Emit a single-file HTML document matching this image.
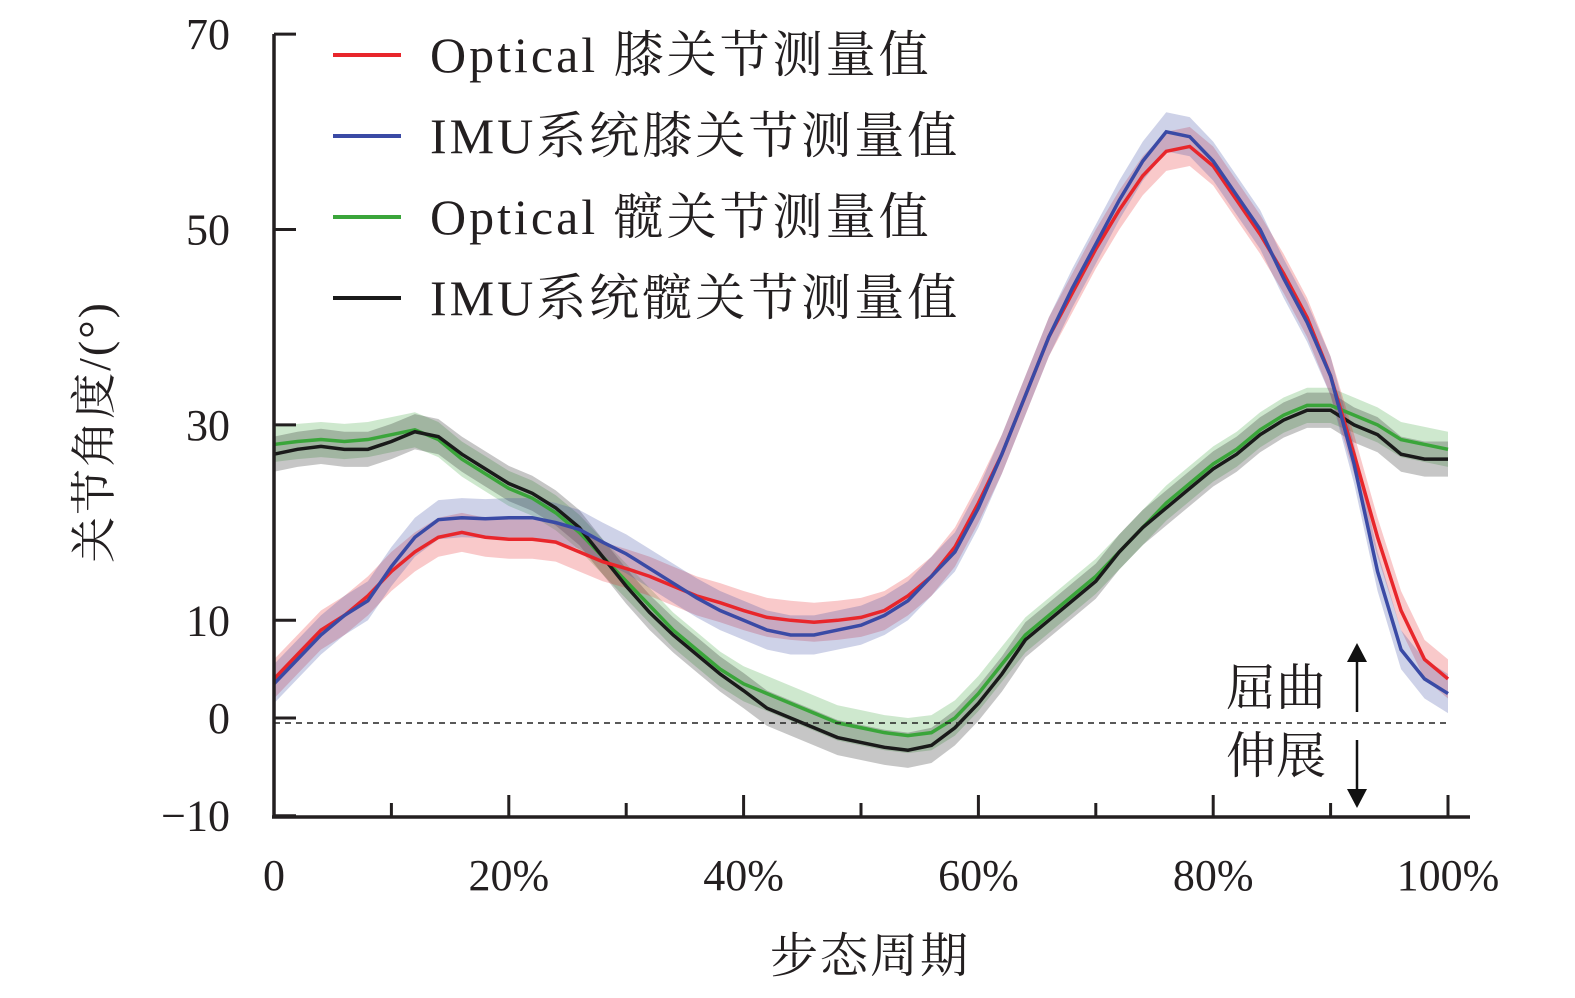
<!DOCTYPE html>
<html><head><meta charset="utf-8"><style>
html,body{margin:0;padding:0;background:#fff;overflow:hidden;width:1575px;height:998px}
svg{display:block}
svg text{font-family:"Liberation Serif","Noto Serif CJK SC",serif;fill:#231f20}
</style></head><body>
<svg id="chart" width="1575" height="998" viewBox="0 0 1575 998" xmlns="http://www.w3.org/2000/svg">
<g id="bands"></g><g id="lines"></g><g id="axes"></g>
<text transform="translate(110,432) rotate(-90)" font-size="46" text-anchor="middle" letter-spacing="2">关节角度/(°)</text>
<text x="870" y="972" font-size="48" text-anchor="middle" letter-spacing="2">步态周期</text>
<text x="1226" y="705" font-size="50">屈曲</text>
<text x="1226" y="773" font-size="50">伸展</text>
<line x1="1357" y1="712" x2="1357" y2="655" stroke="#111" stroke-width="2.5"/>
<polygon points="1347,662 1357,643 1367,662" fill="#111"/>
<line x1="1357" y1="740" x2="1357" y2="796" stroke="#111" stroke-width="2.5"/>
<polygon points="1347,789 1357,808 1367,789" fill="#111"/>
</svg>
<script>
const xPct=[];for(let i=0;i<=50;i++)xPct.push(i*2);
const kneeOptical=[4,6.5,9,10.5,12.5,15,17,18.5,19,18.5,18.3,18.3,18,17,16,15.3,14.5,13.5,12.5,11.8,11,10.3,10,9.8,10,10.3,11,12.5,14.5,17.5,22,27,33,39,43.5,48,52,55.5,58,58.5,56.5,53,49.5,45.5,41,35,27,18.5,11,6,4];
const kneeIMU=[3.5,6,8.5,10.5,12,15.5,18.5,20.3,20.5,20.4,20.5,20.5,20,19.3,18,16.8,15.3,13.8,12.3,11,10,9,8.5,8.5,9,9.5,10.5,12,14.5,17,21.5,27,33,39,44,48.5,53,57,60,59.5,57,53.5,50,45,40.5,35,26,15,7,4,2.5];
const hipOptical=[28,28.3,28.5,28.3,28.5,29,29.5,28.5,26.5,25,23.5,22.5,21,19,16.5,14,11.5,9,7,5,3.5,2.5,1.5,0.5,-0.5,-1,-1.5,-1.8,-1.5,0,2.5,5.5,8.5,10.5,12.5,14.5,17,19.5,22,24,26,27.5,29.5,31,32,32,31,30,28.5,28,27.5];
const hipIMU=[27,27.5,27.8,27.5,27.5,28.3,29.3,28.8,27,25.5,24,23,21.5,19.5,16.5,13.5,10.8,8.5,6.5,4.5,2.8,1,0,-1,-2,-2.5,-3,-3.3,-2.8,-1,1.5,4.5,8,10,12,14,17,19.5,21.5,23.5,25.5,27,29,30.5,31.5,31.5,30,29,27,26.5,26.5];
const bandSD=[2,2,1.8,1.8];
const yTicks=[70,50,30,10,0,-10];
const xTicks=[0,20,40,60,80,100];
const names=["Optical 膝关节测量值","IMU系统膝关节测量值","Optical 髋关节测量值","IMU系统髋关节测量值"];
const colors=["#e8262b","#3a4aa5","#3aa53a","#1a1a1a"];
const series=[kneeOptical,kneeIMU,hipOptical,hipIMU];
const X=p=>274+p*11.74, Y=v=>718-v*9.77;
const NS="http://www.w3.org/2000/svg";
function mk(t,a,parent){const e=document.createElementNS(NS,t);for(const k in a)e.setAttribute(k,a[k]);parent.appendChild(e);return e;}
const bands=document.getElementById('bands'),lines=document.getElementById('lines'),axes=document.getElementById('axes');
const order=[2,3,0,1];
order.forEach(s=>{const d=series[s],sd=bandSD[s];
 let up=xPct.map((p,i)=>X(p)+','+Y(d[i]+sd)).join(' ');
 let dn=xPct.map((p,i)=>X(p)+','+Y(d[i]-sd)).reverse().join(' ');
 const b=mk('polygon',{points:up+' '+dn,fill:colors[s],'fill-opacity':0.25},bands);
 
 
 const l=mk('polyline',{points:xPct.map((p,i)=>X(p)+','+Y(d[i])).join(' '),fill:'none',stroke:colors[s],'stroke-width':3.5},lines);
 
 
});
const z=mk('line',{x1:274,x2:1450,y1:Y(0)+5,y2:Y(0)+5,stroke:'#222','stroke-width':1.5,'stroke-dasharray':'6,5'},axes);


mk('line',{x1:274,x2:274,y1:34,y2:818,stroke:'#231f20','stroke-width':3.5},axes);
mk('line',{x1:272,x2:1470,y1:817,y2:817,stroke:'#231f20','stroke-width':3.5},axes);
yTicks.forEach(v=>{mk('line',{x1:274,x2:296,y1:Y(v),y2:Y(v),stroke:'#231f20','stroke-width':3},axes);
 const t=mk('text',{x:230,y:Y(v)+15,'font-size':44,'text-anchor':'end'},axes);t.textContent=v<0?'−'+(-v):v;
 
 });
for(let p=10;p<=100;p+=10)mk('line',{x1:X(p),x2:X(p),y1:817,y2:p%20?803:795,stroke:'#231f20','stroke-width':3},axes);
xTicks.forEach(p=>{const t=mk('text',{x:X(p),y:890,'font-size':44,'text-anchor':'middle'},axes);t.textContent=p?p+'%':'0';
 
 });
names.forEach((n,i)=>{const yy=55+i*81;
 mk('line',{x1:333,x2:401,y1:yy,y2:yy,stroke:colors[i],'stroke-width':4},axes);
 const t=mk('text',{x:430,y:yy+17,'font-size':50,'letter-spacing':3},axes);t.textContent=n;
 
 });
</script>
</body></html>
